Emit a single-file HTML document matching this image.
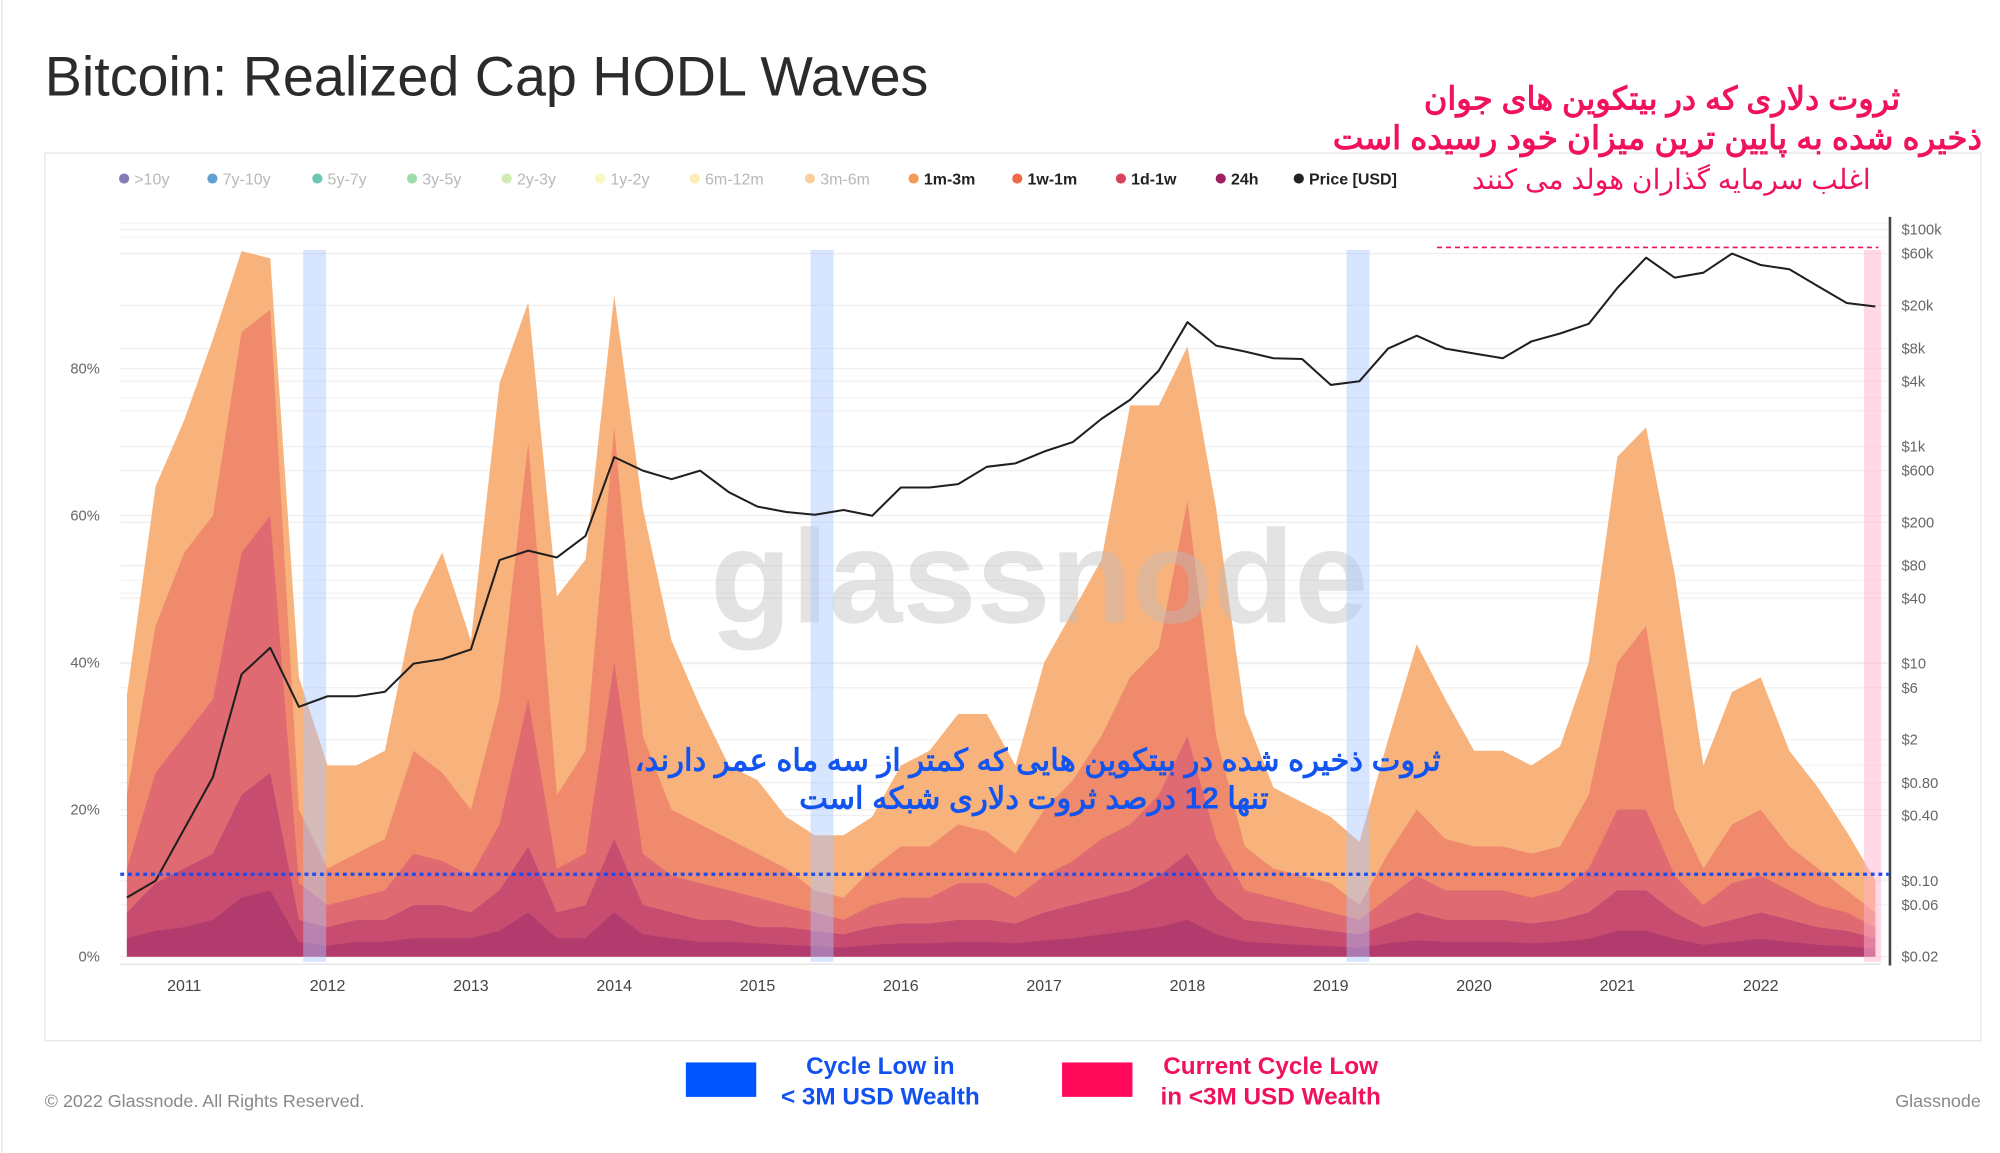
<!DOCTYPE html>
<html><head><meta charset="utf-8"><style>
html,body{margin:0;padding:0;background:#fff;}
svg{display:block;}
text{font-family:"Liberation Sans","Noto Sans CJK SC",sans-serif;}
</style></head><body>
<svg id="chart" width="2000" height="1153" viewBox="0 0 1563 904" preserveAspectRatio="none" xmlns="http://www.w3.org/2000/svg">
<rect x="0" y="0" width="1563" height="904" fill="#fff"/>
<line x1="1.5" y1="0" x2="1.5" y2="904" stroke="#e4e4e4"/>
<text x="35" y="75" font-size="43.5" fill="#2b2b2b">Bitcoin: Realized Cap HODL Waves</text>
<rect x="35" y="120" width="1513" height="696" fill="none" stroke="#e6e6e6"/>
<g id="legend"></g>
<g id="grid"></g>
<g id="areas"></g>
<text x="555" y="488" font-size="104" font-weight="bold" fill="#bdbdbd" opacity="0.42">glassnode</text>
<g id="pricelayer"></g>
<g id="axes"></g>
<g id="annot"></g>
<text x="1485" y="86" text-anchor="start" direction="rtl" font-size="25" font-weight="bold" fill="#f0125e">ثروت دلاری که در بیتکوین های جوان</text>
<text x="1549" y="117" text-anchor="start" direction="rtl" font-size="25.5" font-weight="bold" fill="#f0125e">ذخیره شده به پایین ترین میزان خود رسیده است</text>
<text x="1462" y="148" text-anchor="start" direction="rtl" font-size="22" fill="#f0125e">اغلب سرمایه گذاران هولد می کنند</text>
<text x="811" y="604" text-anchor="middle" direction="rtl" font-size="24" font-weight="bold" fill="#1254f0">ثروت ذخیره شده در بیتکوین هایی که کمتر از سه ماه عمر دارند،</text>
<text x="808" y="634" text-anchor="middle" direction="rtl" font-size="24" font-weight="bold" fill="#1254f0">تنها 12 درصد ثروت دلاری شبکه است</text>
<rect x="536" y="833" width="55" height="27" fill="#0055ff"/>
<text x="688" y="842" text-anchor="middle" font-size="19" font-weight="bold" fill="#1151f0">Cycle Low in</text>
<text x="688" y="866" text-anchor="middle" font-size="19" font-weight="bold" fill="#1151f0">&lt; 3M USD Wealth</text>
<rect x="830" y="833" width="55" height="27" fill="#ff0a5a"/>
<text x="993" y="842" text-anchor="middle" font-size="19" font-weight="bold" fill="#f0125e">Current Cycle Low</text>
<text x="993" y="866" text-anchor="middle" font-size="19" font-weight="bold" fill="#f0125e">in &lt;3M USD Wealth</text>
<text x="35" y="868" font-size="14" fill="#888">© 2022 Glassnode. All Rights Reserved.</text>
<text x="1548" y="868" text-anchor="end" font-size="14" fill="#888">Glassnode</text>
</svg>
<script>
const NS="http://www.w3.org/2000/svg";
const dates=[2010.6,2010.8,2011.0,2011.2,2011.4,2011.6,2011.8,2012.0,2012.2,2012.4,2012.6,2012.8,2013.0,2013.2,2013.4,2013.6,2013.8,2014.0,2014.2,2014.4,2014.6,2014.8,2015.0,2015.2,2015.4,2015.6,2015.8,2016.0,2016.2,2016.4,2016.6,2016.8,2017.0,2017.2,2017.4,2017.6,2017.8,2018.0,2018.2,2018.4,2018.6,2018.8,2019.0,2019.2,2019.4,2019.6,2019.8,2020.0,2020.2,2020.4,2020.6,2020.8,2021.0,2021.2,2021.4,2021.6,2021.8,2022.0,2022.2,2022.4,2022.6,2022.8];
const top3m6m=[35.6,64,73,84,96,95,38,26,26,28,47,55,43,78,89,49,54,90,61,43,34,26,24,19,16.5,16.5,19,26,28,33,33,26,40,47,54,75,75,83,61,33,23,21,19,15.6,29.5,42.5,35,28,28,26,28.6,40,68,72,52,26,36,38,28,23,17,10.4];
const top1m3m=[22,45,55,60,85,88,20,12,14,16,28,25,20,35,70,22,28,72,30,20,18,16,14,12,9,8,12,15,15,18,17,14,20,24,30,38,42,62,30,15,12,11,10,7,14,20,16,15,15,14,15,22,40,45,20,12,18,20,15,12,9,6];
const top1w1m=[12,25,30,35,55,60,10,7,8,9,14,13,11,18,35,12,14,40,14,11,10,9,8,7,6,5,7,8,8,10,10,8,11,13,16,18,22,30,16,9,8,7,6,5,8,11,9,9,9,8,9,12,20,20,11,7,10,11,9,7,6,4];
const top1d1w=[6,10,12,14,22,25,5,4,5,5,7,7,6,9,15,6,7,16,7,6,5,5,4,4,3.5,3,4,4.5,4.5,5,5,4.5,6,7,8,9,11,14,8,5,4.5,4,3.5,3,4.5,6,5,5,5,4.5,5,6,9,9,6,4,5,6,5,4,3.5,2.5];
const top24h=[2.5,3.5,4,5,8,9,2,1.5,2,2,2.5,2.5,2.5,3.5,6,2.5,2.5,6,3,2.5,2,2,1.8,1.6,1.4,1.2,1.6,1.8,1.8,2,2,1.8,2.2,2.5,3,3.5,4,5,3,2,1.8,1.6,1.4,1.2,1.8,2.2,2,2,2,1.8,2,2.4,3.5,3.5,2.4,1.6,2,2.4,2,1.6,1.4,1];
const price=[0.07,0.1,0.3,0.9,8,14,4,5,5,5.5,10,11,13.5,90,110,95,150,800,600,500,600,380,280,250,235,260,230,420,420,450,650,700,900,1100,1800,2700,5000,14000,8500,7500,6500,6400,3700,4000,8000,10500,8000,7200,6500,9300,11000,13500,29000,55000,36000,40000,60000,47000,43000,30000,21000,19500];
const yearTicks=[2011,2012,2013,2014,2015,2016,2017,2018,2019,2020,2021,2022];
const pctTicks=[0,20,40,60,80];
const priceTicks=[0.02,0.06,0.1,0.4,0.8,2,6,10,40,80,200,600,1000,4000,8000,20000,60000,100000];
const priceLabels=["$0.02","$0.06","$0.10","$0.40","$0.80","$2","$6","$10","$40","$80","$200","$600","$1k","$4k","$8k","$20k","$60k","$100k"];
const cycleLows=[[2011.83,2011.99],[2015.37,2015.53],[2019.11,2019.27]];
const currentLow=[2022.72,2022.84];
const lowLevelPct=11.2;
const legendNames=[">10y","7y-10y","5y-7y","3y-5y","2y-3y","1y-2y","6m-12m","3m-6m","1m-3m","1w-1m","1d-1w","24h","Price [USD]"];
const legendColors=["#5b4fa0","#2f7fc1","#3bb3a0","#7fcf8f","#c2e59a","#f4f4a8","#fbe49a","#f9c27a","#f4995a","#ef6b48","#d8455a","#a01f5e","#222"];

const X=d=>144+(d-2011)*112;
const Y=p=>750-p*5.7625;
const PY=v=>750-(Math.log10(v)+1.699)*85.1;
function mk(tag,attrs,parent){const e=document.createElementNS(NS,tag);for(const k in attrs)e.setAttribute(k,attrs[k]);parent.appendChild(e);return e;}

const lg=document.getElementById('legend');
let lx=[97,166,248,322,396,469,543,633,714,795,876,954,1015];
legendNames.forEach((n,i)=>{
  const active=i>=8;
  const c=mk('circle',{cx:lx[i],cy:140,r:4,fill:legendColors[i],opacity:active?1:0.75},lg);
  
  
  const t=mk('text',{x:lx[i]+8,y:144.5,'font-size':12.5,fill:active?'#222':'#b8b8b8','font-weight':active?'bold':'normal'},lg);
  t.textContent=n;
  
  
});

const gr=document.getElementById('grid');
priceTicks.forEach(v=>{const l=mk('line',{x1:94,x2:1475,y1:PY(v),y2:PY(v),stroke:'#efefef'},gr);

});
pctTicks.forEach(v=>{const l=mk('line',{x1:94,x2:1475,y1:Y(v),y2:Y(v),stroke:'#efefef'},gr);

});
[175,186,312,322,455,465,580,600].forEach(y=>{const l=mk('line',{x1:94,x2:1475,y1:y,y2:y,stroke:'#f3f3f3'},gr);

});

const ar=document.getElementById('areas');
const layers=[[top3m6m,'#f8b37d','area-3m-6m'],[top1m3m,'#ef8b6c','area-1m-3m'],[top1w1m,'#e06a72','area-1w-1m'],[top1d1w,'#c84c70','area-1d-1w'],[top24h,'#b13b6c','area-24h']];
layers.forEach(([arr,col,name])=>{
  let d='M'+X(dates[0])+','+Y(0);
  arr.forEach((v,i)=>{d+=' L'+X(dates[i]).toFixed(1)+','+Y(v).toFixed(1);});
  d+=' L'+X(dates[dates.length-1])+','+Y(0)+'Z';
  const p=mk('path',{d:d,fill:col},ar);
  
  
});

const bandLayer=document.getElementById('pricelayer');
cycleLows.forEach((b,i)=>{const r=mk('rect',{x:X(b[0]),y:196,width:X(b[1])-X(b[0]),height:Y(0)-196+4,fill:'#a9c6ff',opacity:0.45},bandLayer);

});
const cr=mk('rect',{x:X(currentLow[0]),y:196,width:X(currentLow[1])-X(currentLow[0]),height:Y(0)-196+4,fill:'#ffb3cf',opacity:0.5},bandLayer);



let pd='';
price.forEach((v,i)=>{pd+=(i?' L':'M')+X(dates[i]).toFixed(1)+','+PY(v).toFixed(1);});
const pl=mk('path',{d:pd,fill:'none',stroke:'#1f1f1f','stroke-width':1.6,'stroke-linejoin':'round'},bandLayer);



const an=document.getElementById('annot');
const bl=mk('line',{x1:94,x2:1476,y1:Y(lowLevelPct),y2:Y(lowLevelPct),stroke:'#1a4df0','stroke-width':2.6,'stroke-dasharray':'3 3'},an);


const pk=mk('line',{x1:1123,x2:1468,y1:194,y2:194,stroke:'#f0125e','stroke-width':1.3,'stroke-dasharray':'4 3'},an);



const ax=document.getElementById('axes');
const ra=mk('line',{x1:1477,x2:1477,y1:170,y2:757,stroke:'#444','stroke-width':2},ax);


const ba=mk('line',{x1:94,x2:1470,y1:756,y2:756,stroke:'#e0e0e0'},ax);


yearTicks.forEach(y=>{const t=mk('text',{x:X(y),y:777,'text-anchor':'middle','font-size':12.5,fill:'#444'},ax);t.textContent=y;

});
pctTicks.forEach(p=>{const t=mk('text',{x:78,y:Y(p)+4,'text-anchor':'end','font-size':11.5,fill:'#666'},ax);t.textContent=p+'%';

});
priceTicks.forEach((v,i)=>{const t=mk('text',{x:1486,y:PY(v)+4,'font-size':11.5,fill:'#666'},ax);t.textContent=priceLabels[i];

});
</script>
</body></html>
